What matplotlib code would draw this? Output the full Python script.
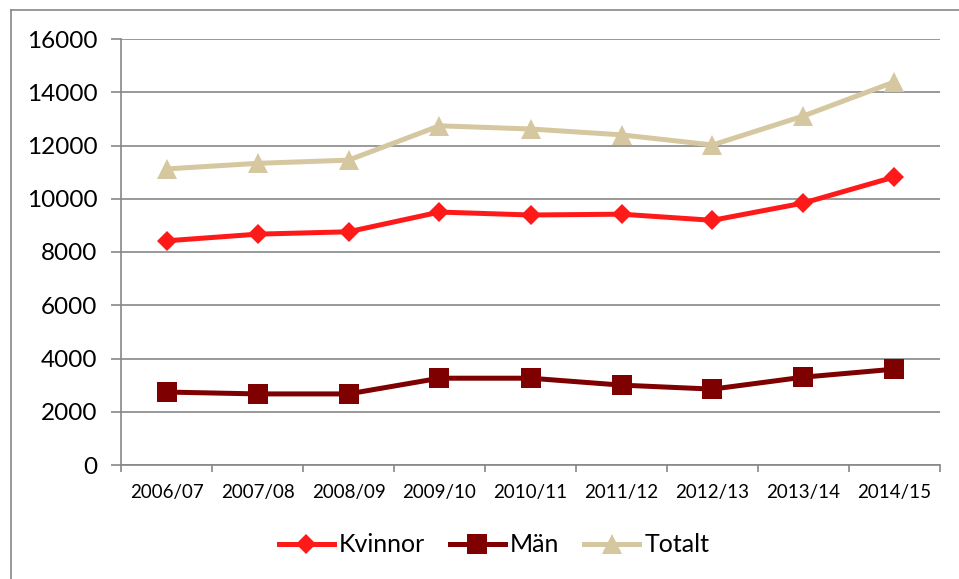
import numpy as np
import matplotlib
matplotlib.use("Agg")
import matplotlib.pyplot as plt
from matplotlib.lines import Line2D
from matplotlib.ticker import FixedLocator

plt.rcParams["font.family"] = ["Lato", "DejaVu Sans"]

# ── Data ──────────────────────────────────────────────────────────────────────
years   = ["2006/07", "2007/08", "2008/09", "2009/10", "2010/11",
           "2011/12", "2012/13", "2013/14", "2014/15"]
kvinnor = [8420, 8670, 8760, 9500, 9390, 9420, 9190, 9840, 10820]
man     = [2740, 2670, 2670, 3260, 3260, 3000, 2850, 3300, 3600]
totalt  = [11120, 11330, 11450, 12740, 12620, 12400, 12020, 13110, 14390]
yticks  = [0, 2000, 4000, 6000, 8000, 10000, 12000, 14000, 16000]

GRID = "#878787"
W, H = 959, 579

fig = plt.figure(figsize=(W / 100, H / 100), dpi=100)
ax = fig.add_axes([121 / W, 1 - 465 / H, (940 - 121) / W, (465 - 39) / H])

x = np.arange(len(years))
ax.plot(x, kvinnor, color="#FF1A1A", lw=3.6, marker="D", ms=10, mew=0, label="Kvinnor", zorder=4)
ax.plot(x, man,     color="#7F0000", lw=3.6, marker="s", ms=14, mew=0, label="Män", zorder=4)
ax.plot(x, totalt,  color="#D5C79F", lw=3.6, marker="^", ms=15, mew=0, label="Totalt", zorder=3)

ax.set_xlim(-0.5, len(years) - 0.5)
ax.set_ylim(0, 16000)
ax.set_yticks(yticks)
ax.set_yticklabels([str(v) for v in yticks], fontsize=17.5)
ax.set_xticks(x)
ax.set_xticklabels(years, fontsize=13.5)
ax.xaxis.set_minor_locator(FixedLocator(np.arange(-0.5, len(years), 1.0)))

ax.tick_params(axis="y", length=7, width=1.2, color=GRID, pad=10)
ax.tick_params(axis="x", which="major", length=0, pad=14)
ax.tick_params(axis="x", which="minor", length=5, width=1.2, color=GRID)

ax.grid(axis="y", color=GRID, lw=1.2, zorder=1)
for s in ("top", "right"):
    ax.spines[s].set_visible(False)
for s in ("left", "bottom"):
    ax.spines[s].set_color(GRID)
    ax.spines[s].set_linewidth(1.2)

leg = fig.legend(loc="center", bbox_to_anchor=(494 / W, 1 - 545 / H), ncol=3,
                 frameon=False, fontsize=18, handlelength=2.2, handletextpad=0.2,
                 columnspacing=1.0)

# outer chart frame (left and top edges only visible)
fig.add_artist(Line2D([11 / W, 11 / W], [0, 1 - 10 / H], color=GRID, lw=1.2))
fig.add_artist(Line2D([11 / W, 1], [1 - 10 / H, 1 - 10 / H], color=GRID, lw=1.2))

fig.savefig("out.png", dpi=100)
